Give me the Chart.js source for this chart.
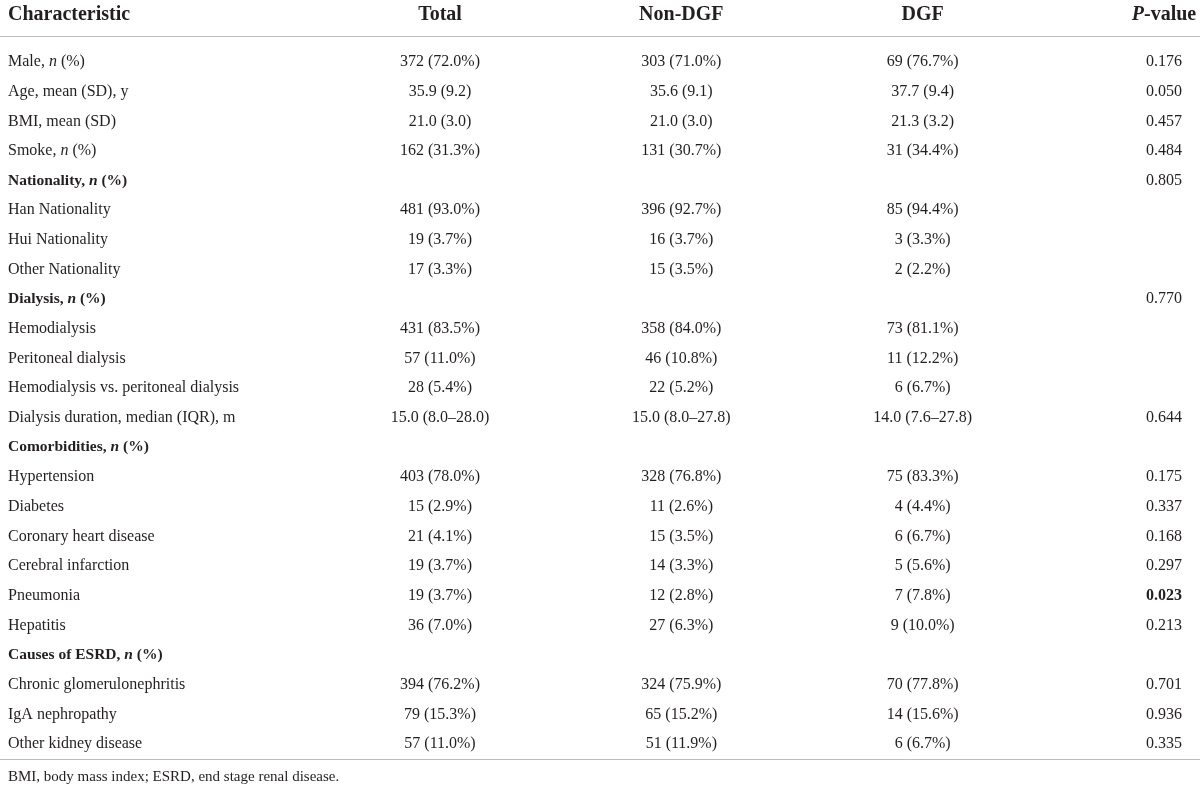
<!DOCTYPE html>
<html>
<head>
<meta charset="utf-8">
<script src="https://cdn.jsdelivr.net/npm/chart.js@4/dist/chart.umd.min.js"></script>
<style>
  html, body { margin: 0; padding: 0; background: #fff; }
  #wrap { width: 1200px; height: 798px; position: relative; }
</style>
</head>
<body>
<div id="wrap"><canvas id="tableChart"></canvas></div>
<script>
// Table content (text between _underscores_ is set in italic)
const columnHeads = ['Total', 'Non-DGF', 'DGF', '_P_-value'];
const firstHead = 'Characteristic';

const rowLabels = [
    'Male, _n_ (%)', 'Age, mean (SD), y', 'BMI, mean (SD)', 'Smoke, _n_ (%)',
    'Nationality, _n_ (%)', 'Han Nationality', 'Hui Nationality', 'Other Nationality',
    'Dialysis, _n_ (%)', 'Hemodialysis', 'Peritoneal dialysis',
    'Hemodialysis vs. peritoneal dialysis', 'Dialysis duration, median (IQR), m',
    'Comorbidities, _n_ (%)', 'Hypertension', 'Diabetes', 'Coronary heart disease',
    'Cerebral infarction', 'Pneumonia', 'Hepatitis',
    'Causes of ESRD, _n_ (%)', 'Chronic glomerulonephritis', 'IgA nephropathy',
    'Other kidney disease'
];
const sectionRows = [4, 8, 13, 20];

const totalCol = [
    '372 (72.0%)', '35.9 (9.2)', '21.0 (3.0)', '162 (31.3%)',
    '', '481 (93.0%)', '19 (3.7%)', '17 (3.3%)',
    '', '431 (83.5%)', '57 (11.0%)', '28 (5.4%)', '15.0 (8.0–28.0)',
    '', '403 (78.0%)', '15 (2.9%)', '21 (4.1%)', '19 (3.7%)', '19 (3.7%)', '36 (7.0%)',
    '', '394 (76.2%)', '79 (15.3%)', '57 (11.0%)'
];
const nonDgfCol = [
    '303 (71.0%)', '35.6 (9.1)', '21.0 (3.0)', '131 (30.7%)',
    '', '396 (92.7%)', '16 (3.7%)', '15 (3.5%)',
    '', '358 (84.0%)', '46 (10.8%)', '22 (5.2%)', '15.0 (8.0–27.8)',
    '', '328 (76.8%)', '11 (2.6%)', '15 (3.5%)', '14 (3.3%)', '12 (2.8%)', '27 (6.3%)',
    '', '324 (75.9%)', '65 (15.2%)', '51 (11.9%)'
];
const dgfCol = [
    '69 (76.7%)', '37.7 (9.4)', '21.3 (3.2)', '31 (34.4%)',
    '', '85 (94.4%)', '3 (3.3%)', '2 (2.2%)',
    '', '73 (81.1%)', '11 (12.2%)', '6 (6.7%)', '14.0 (7.6–27.8)',
    '', '75 (83.3%)', '4 (4.4%)', '6 (6.7%)', '5 (5.6%)', '7 (7.8%)', '9 (10.0%)',
    '', '70 (77.8%)', '14 (15.6%)', '6 (6.7%)'
];
const pValues = [
    '0.176', '0.050', '0.457', '0.484',
    '0.805', '', '', '',
    '0.770', '', '', '', '0.644',
    '', '0.175', '0.337', '0.168', '0.297', '0.023', '0.213',
    '', '0.701', '0.936', '0.335'
];
const boldPValues = ['0.023'];
const footnote = 'BMI, body mass index; ESRD, end stage renal disease.';

const FONT = "'Liberation Serif', 'DejaVu Serif', serif";
const INK = '#231f20';
const RULE = '#bdbdbd';

// draw "a _b_ c" with italic parts, aligned left / center
function drawRich(ctx, text, x, y, align, size, bold) {
    const parts = text.split('_').map((t, i) => ({ t, italic: i % 2 === 1 }));
    const fontFor = p => (p.italic ? 'italic ' : '') + (bold ? 'bold ' : '') + size + 'px ' + FONT;
    let width = 0;
    parts.forEach(p => { ctx.font = fontFor(p); p.w = ctx.measureText(p.t).width; width += p.w; });
    let cx = align === 'center' ? x - width / 2 : x;
    ctx.textAlign = 'left';
    ctx.textBaseline = 'middle';
    parts.forEach(p => { ctx.font = fontFor(p); ctx.fillText(p.t, cx, y); cx += p.w; });
}

const tablePlugin = {
    id: 'tableText',
    afterDraw(chart) {
        const ctx = chart.ctx;
        const xs = chart.scales.x;
        const ys = chart.scales.y;
        const area = chart.chartArea;
        const rowStep = ys.getPixelForValue(1) - ys.getPixelForValue(0);
        const textLeft = 8;
        ctx.save();
        ctx.fillStyle = INK;

        // header row
        const headY = area.top - rowStep * 1.58;
        drawRich(ctx, firstHead, textLeft, headY, 'left', 20, true);
        columnHeads.forEach((h, i) => drawRich(ctx, h, xs.getPixelForValue(i), headY, 'center', 20, true));

        // rules
        ctx.strokeStyle = RULE;
        ctx.lineWidth = 1;
        const topRule = Math.round(area.top - rowStep * 0.88) + 0.5;
        const botRule = Math.round(ys.getPixelForValue(rowLabels.length - 1) + rowStep * 0.52) + 0.5;
        [topRule, botRule].forEach(yy => {
            ctx.beginPath();
            ctx.moveTo(0, yy);
            ctx.lineTo(chart.width, yy);
            ctx.stroke();
        });

        // body rows
        const columns = [totalCol, nonDgfCol, dgfCol, pValues];
        rowLabels.forEach((label, r) => {
            const y = ys.getPixelForValue(r);
            const section = sectionRows.includes(r);
            drawRich(ctx, label, textLeft, y, 'left', section ? 15.5 : 16, section);
            columns.forEach((col, c) => {
                const v = col[r];
                if (!v) return;
                const bold = c === 3 && boldPValues.includes(v);
                drawRich(ctx, v, xs.getPixelForValue(c), y, 'center', 16, bold);
            });
        });

        // footnote
        drawRich(ctx, footnote, textLeft, botRule + rowStep * 0.6, 'left', 15, false);
        ctx.restore();
    }
};

new Chart(document.getElementById('tableChart'), {
    type: 'line',
    data: {
        labels: columnHeads,
        datasets: []
    },
    options: {
        responsive: true,
        maintainAspectRatio: false,
        animation: false,
        events: [],
        layout: {
            padding: { left: 440, right: 36, top: 62, bottom: 54 }
        },
        plugins: {
            legend: { display: false },
            tooltip: { enabled: false }
        },
        scales: {
            x: {
                type: 'category',
                labels: columnHeads,
                offset: false,
                display: false
            },
            y: {
                type: 'category',
                labels: rowLabels,
                offset: false,
                display: false
            }
        }
    },
    plugins: [tablePlugin]
});
</script>
</body>
</html>
